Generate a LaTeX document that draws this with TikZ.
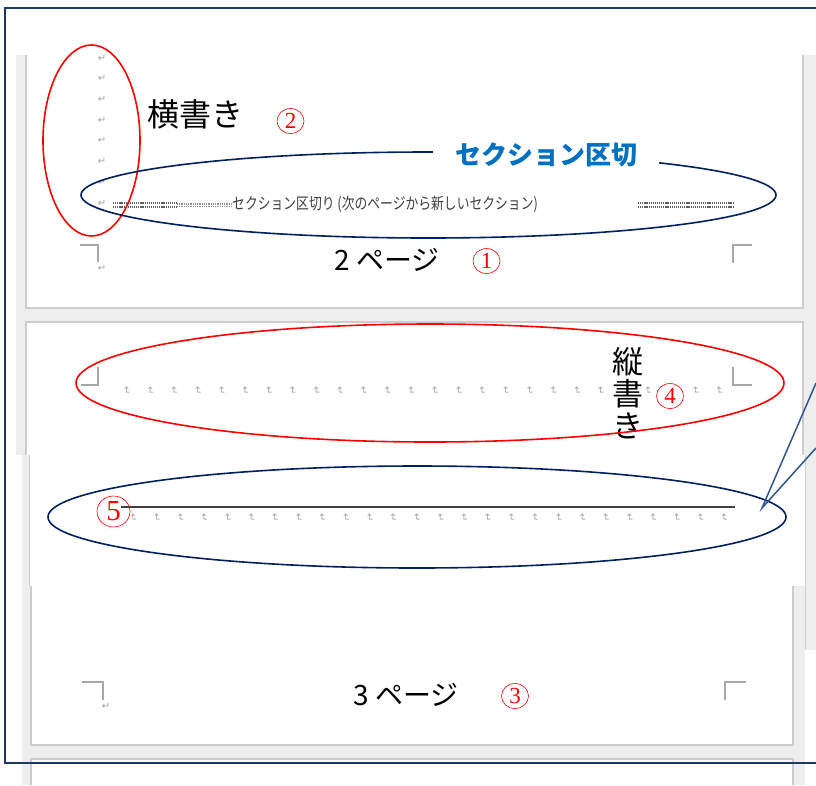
\documentclass[tikz,border=0pt]{standalone}
\usepackage{fontspec}
\usepackage{graphicx}
\setmainfont{Liberation Serif}
\newfontfamily\jp{Noto Sans CJK JP}
\newfontfamily\djv{DejaVu Sans}
\usetikzlibrary{shapes.geometric}
\definecolor{navy}{HTML}{002060}
\definecolor{framec}{HTML}{1F3864}
\definecolor{calloutc}{HTML}{2F5597}
\definecolor{bgray}{HTML}{EEEEEE}
\definecolor{pborder}{HTML}{CDCDCD}
\definecolor{cornerc}{HTML}{A8A8A8}
\definecolor{markc}{HTML}{A6A6A6}
\definecolor{seclabel}{HTML}{0070C0}
\definecolor{sectext}{HTML}{404040}
\definecolor{dotc}{HTML}{5E5E5E}
\tikzset{
  pageedge/.style={draw=pborder, line width=1.2pt},
  cornermark/.style={draw=cornerc, line width=1.5pt},
  redell/.style={draw=red, line width=1.6pt},
  navyell/.style={draw=navy, line width=1.6pt},
  pmark/.style={text=markc, font=\djv\fontsize{10}{10}\selectfont, inner sep=0pt},
  circnum/.style={ellipse, draw=red, line width=0.6pt, inner sep=0pt,
    minimum width=27pt, minimum height=25pt, text=red,
    font=\fontsize{23}{23}\selectfont},
  jptext/.style={text=black, inner sep=0pt},
  dotsbold/.style={draw=dotc, line width=1.8pt, dash pattern=on 1.2pt off 0.9pt},
  dotslight/.style={draw=dotc!70, line width=1.2pt, dash pattern=on 1pt off 0.8pt},
  callout/.style={draw=calloutc, line width=1.5pt}
}
\begin{document}
\begin{tikzpicture}[x=1pt,y=-1pt]
\useasboundingbox (0,0) rectangle (816,785);
\fill[white] (0,0) rectangle (816,785);
% ---------- background gray and pages ----------
\fill[bgray] (16,55) rectangle (816,455);
\fill[white] (26,55) rectangle (803,308);
\draw[pageedge] (26,55) -- (26,308) -- (803,308) -- (803,55);
\fill[white] (26,322) rectangle (803,455);
\draw[pageedge] (26,455) -- (26,322) -- (803,322) -- (803,455);
% middle strip
\fill[bgray] (22,455) rectangle (30,586);
\draw[pageedge] (29.5,455) -- (29.5,586);
\fill[bgray] (805,455) rectangle (816,650);
\draw[pageedge] (805.5,455) -- (805.5,650);
% page 3 and next page
\fill[bgray] (22,586) rectangle (805,785);
\fill[white] (31,586) rectangle (793,745);
\draw[pageedge] (31,586) -- (31,745) -- (793,745) -- (793,586);
\fill[white] (31,759) rectangle (793,785);
\draw[pageedge] (31,785) -- (31,759) -- (793,759) -- (793,785);
% ---------- outer frame ----------
\draw[framec, line width=1.6pt] (816,8) -- (5,8) -- (5,763) -- (816,763);
% ---------- page 1 ----------
\foreach \k in {0,...,7} {
  \node[pmark] (pa\k) at (102,{58+20.7*\k}) {↵};
}
\node[pmark] (pa8) at (102,268) {↵};
\draw[cornermark] (80,245) -- (98,245) -- (98,262);
\draw[cornermark] (752,245) -- (733,245) -- (733,263);
\node[jptext, font=\jp\fontsize{32}{32}\selectfont] (yoko) at (195.5,114) {横書き};
\node[circnum] (c2) at (290.5,121) {2};
% section break line
\draw[dotsbold] (113,203.2) -- (177,203.2);
\draw[dotsbold] (113,207) -- (177,207);
\draw[dotslight] (177,204) -- (232,204);
\draw[dotslight] (177,206.6) -- (232,206.6);
\node[text=sectext, inner sep=0pt, anchor=west, font=\jp\fontsize{16}{16}\selectfont]
  (sbtext) at (232,204) {\scalebox{0.8}[1]{セクション区切り (次のページから新しいセクション)}};
\draw[dotsbold] (638,203.2) -- (734,203.2);
\draw[dotsbold] (638,207) -- (734,207);
\draw[redell] (91.5,140.5) ellipse [x radius=48.5pt, y radius=95.5pt];
\draw[navyell] (428.5,195) ellipse [x radius=347.5pt, y radius=43pt];
\node[fill=white, text=seclabel, inner xsep=22pt, inner ysep=6pt,
  font=\jp\bfseries\fontsize{26}{26}\selectfont] (seclbl) at (546,155) {セクション区切};
\node[jptext, font=\jp\fontsize{28}{28}\selectfont] (p2) at (387,260) {2 ページ};
\node[circnum] (c1) at (486.5,261) {1};
% ---------- page 2 ----------
\draw[cornermark] (98,367) -- (98,385) -- (81,385);
\draw[cornermark] (733,367) -- (733,385) -- (752,385);
\foreach \k in {0,...,20,22,24,25} {
  \node[pmark, rotate=-90] (pb\k) at ({126.6+23.7*\k},391) {↵};
}
\node[jptext, font=\jp\fontsize{31}{31}\selectfont] (tate1) at (628,362) {縦};
\node[jptext, font=\jp\fontsize{31}{31}\selectfont] (tate2) at (628,394) {書};
\node[jptext, font=\jp\fontsize{31}{31}\selectfont] (tate3) at (628,426) {き};
\node[circnum] (c4) at (670,396) {4};
\draw[redell] (430,383) ellipse [x radius=354pt, y radius=59pt];
% section line with marks
\coordinate (lineA) at (121,507);
\coordinate (lineB) at (735,507);
\draw[sectext, line width=1.5pt] (lineA) -- (lineB);
\foreach \k in {0,...,25} {
  \node[pmark, rotate=-90] (pc\k) at ({133+23.64*\k},518) {↵};
}
\node[circnum, minimum width=33pt, minimum height=31pt, font=\fontsize{29}{29}\selectfont] (c5) at (113.5,511.5) {5};
\draw[navyell] (417,517) ellipse [x radius=369pt, y radius=51pt];
% callout pointer
\coordinate (tip) at (762,508);
\coordinate (co1) at (816,383);
\coordinate (co2) at (816,448);
\draw[callout] (co1) -- (tip) -- (co2);
% ---------- page 3 ----------
\draw[cornermark] (82,682) -- (103,682) -- (103,700);
\draw[cornermark] (746,682) -- (725,682) -- (725,700);
\node[pmark] (pd0) at (106,706) {↵};
\node[jptext, font=\jp\fontsize{28}{28}\selectfont] (p3) at (406,695) {3 ページ};
\node[circnum] (c3) at (515,696) {3};
\end{tikzpicture}
\end{document}
